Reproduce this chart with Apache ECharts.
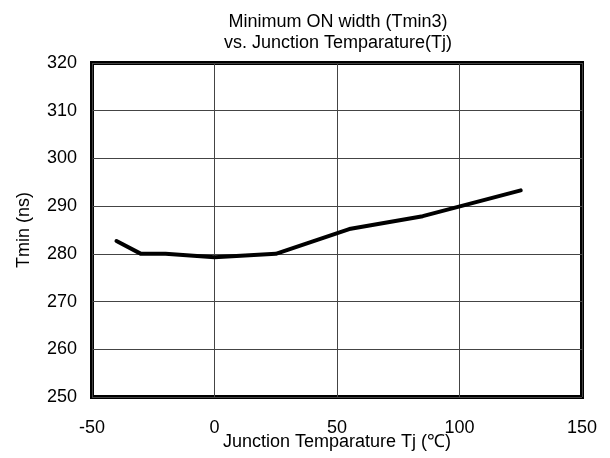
<!DOCTYPE html>
<html>
<head>
<meta charset="utf-8">
<script src="https://cdn.jsdelivr.net/npm/echarts@6/dist/echarts.min.js"></script>
<style>
  html, body { margin: 0; padding: 0; background: #fff; }
  #chart { width: 610px; height: 458px; }
</style>
</head>
<body>
<div id="chart"></div>
<script>
// junction temperature (°C) and Tmin (ns)
const tempC = [-40, -30, -20, 0, 25, 55, 85, 125];
const tminNs = [282.7, 280.0, 280.0, 279.3, 280.0, 285.2, 287.9, 293.3];

const titleLines = ['Minimum ON width (Tmin3)', 'vs. Junction Temparature(Tj)'];
const xName = 'Junction Temparature Tj (\u2103)';
const yName = 'Tmin (ns)';

const font = 'Liberation Sans, Arial, sans-serif';
const chart = echarts.init(document.getElementById('chart'));

const gridLine = { show: true, lineStyle: { color: '#444', width: 1 } };

chart.setOption({
    animation: false,
    title: {
        text: titleLines.join('\n'),
        left: 333,
        textAlign: 'center',
        top: 7,
        textStyle: { fontFamily: font, fontSize: 18, fontWeight: 'normal', color: '#000', lineHeight: 21 }
    },
    grid: {
        left: 92, right: 28, top: 63, bottom: 61,
        containLabel: false,
        outerBoundsMode: 'none',
        show: true, borderColor: '#000', borderWidth: 4
    },
    xAxis: {
        type: 'value',
        min: -50, max: 150, interval: 50,
        name: xName,
        nameLocation: 'middle',
        nameGap: 36,
        nameMoveOverlap: false,
        nameTextStyle: { fontFamily: font, fontSize: 18, color: '#000' },
        axisLine: { show: false },
        axisTick: { show: false },
        axisLabel: { fontFamily: font, fontSize: 18, color: '#000', margin: 22 },
        splitLine: gridLine
    },
    yAxis: {
        type: 'value',
        min: 250, max: 320, interval: 10,
        name: yName,
        nameLocation: 'middle',
        nameGap: 59,
        nameMoveOverlap: false,
        nameTextStyle: { fontFamily: font, fontSize: 18, color: '#000' },
        axisLine: { show: false },
        axisTick: { show: false },
        axisLabel: { fontFamily: font, fontSize: 18, color: '#000', margin: 15 },
        splitLine: gridLine
    },
    series: [{
        type: 'line',
        data: tempC.map((t, i) => [t, tminNs[i]]),
        showSymbol: false,
        lineStyle: { color: '#000', width: 4, cap: 'round', join: 'round' }
    }]
});
</script>
</body>
</html>
